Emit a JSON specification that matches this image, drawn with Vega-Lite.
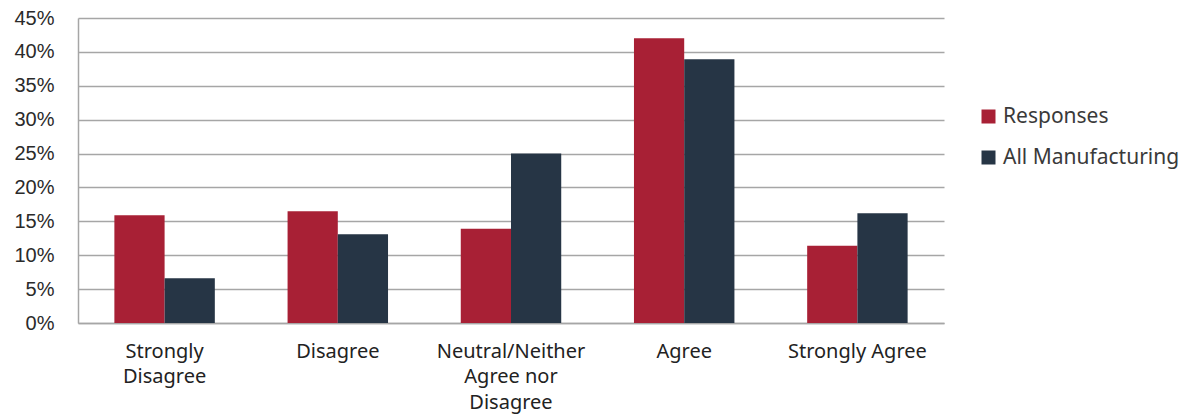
{
  "$schema": "https://vega.github.io/schema/vega-lite/v6.json",
  "autosize": {"type": "none"},
  "padding": {"left": 78, "top": 18, "right": 245, "bottom": 94},
  "width": 866,
  "height": 305,
  "background": "white",
  "data": {
    "values": [
      {"category": "Strongly Disagree", "series": "Responses", "share": 0.159},
      {"category": "Strongly Disagree", "series": "All Manufacturing", "share": 0.066},
      {"category": "Disagree", "series": "Responses", "share": 0.165},
      {"category": "Disagree", "series": "All Manufacturing", "share": 0.131},
      {"category": "Neutral/Neither Agree nor Disagree", "series": "Responses", "share": 0.139},
      {"category": "Neutral/Neither Agree nor Disagree", "series": "All Manufacturing", "share": 0.25},
      {"category": "Agree", "series": "Responses", "share": 0.42},
      {"category": "Agree", "series": "All Manufacturing", "share": 0.389},
      {"category": "Strongly Agree", "series": "Responses", "share": 0.114},
      {"category": "Strongly Agree", "series": "All Manufacturing", "share": 0.162}
    ]
  },
  "mark": {"type": "bar"},
  "encoding": {
    "x": {
      "field": "category",
      "type": "nominal",
      "sort": ["Strongly Disagree", "Disagree", "Neutral/Neither Agree nor Disagree", "Agree", "Strongly Agree"],
      "scale": {"paddingInner": 0.42, "paddingOuter": 0.21},
      "axis": {
        "title": null,
        "labelAngle": 0,
        "labelExpr": "datum.value == 'Strongly Disagree' ? ['Strongly', 'Disagree'] : datum.value == 'Neutral/Neither Agree nor Disagree' ? ['Neutral/Neither', 'Agree nor', 'Disagree'] : datum.value",
        "labelFont": "Noto Sans",
        "labelFontSize": 20,
        "labelColor": "#222222",
        "labelLineHeight": 25.5,
        "labelBaseline": "top",
        "labelPadding": 18,
        "labelLimit": 300,
        "ticks": false,
        "domainColor": "#a6a6a6",
        "domainWidth": 1.5,
        "grid": false
      }
    },
    "xOffset": {
      "field": "series",
      "type": "nominal",
      "sort": ["Responses", "All Manufacturing"],
      "scale": {"paddingInner": 0, "paddingOuter": 0}
    },
    "y": {
      "field": "share",
      "type": "quantitative",
      "scale": {"domain": [0, 0.45], "nice": false},
      "axis": {
        "title": null,
        "values": [0, 0.05, 0.1, 0.15, 0.2, 0.25, 0.3, 0.35, 0.4, 0.45],
        "format": ".0%",
        "labelFont": "Liberation Sans",
        "labelFontSize": 20,
        "labelColor": "#2a2a2a",
        "labelPadding": 24,
        "ticks": false,
        "domainColor": "#a6a6a6",
        "domainWidth": 1.5,
        "gridColor": "#a6a6a6",
        "gridWidth": 1.5
      }
    },
    "color": {
      "field": "series",
      "type": "nominal",
      "sort": ["Responses", "All Manufacturing"],
      "scale": {"domain": ["Responses", "All Manufacturing"], "range": ["#a82035", "#263545"]},
      "legend": {
        "title": null,
        "orient": "none",
        "legendX": 900,
        "legendY": 88,
        "padding": 0,
        "symbolType": "square",
        "symbolSize": 196,
        "symbolStrokeWidth": 0,
        "labelFont": "Noto Sans",
        "labelFontSize": 21,
        "labelColor": "#3a3a3a",
        "labelOffset": 4,
        "labelLimit": 300,
        "rowPadding": 19
      }
    }
  },
  "config": {
    "view": {"stroke": null}
  }
}
